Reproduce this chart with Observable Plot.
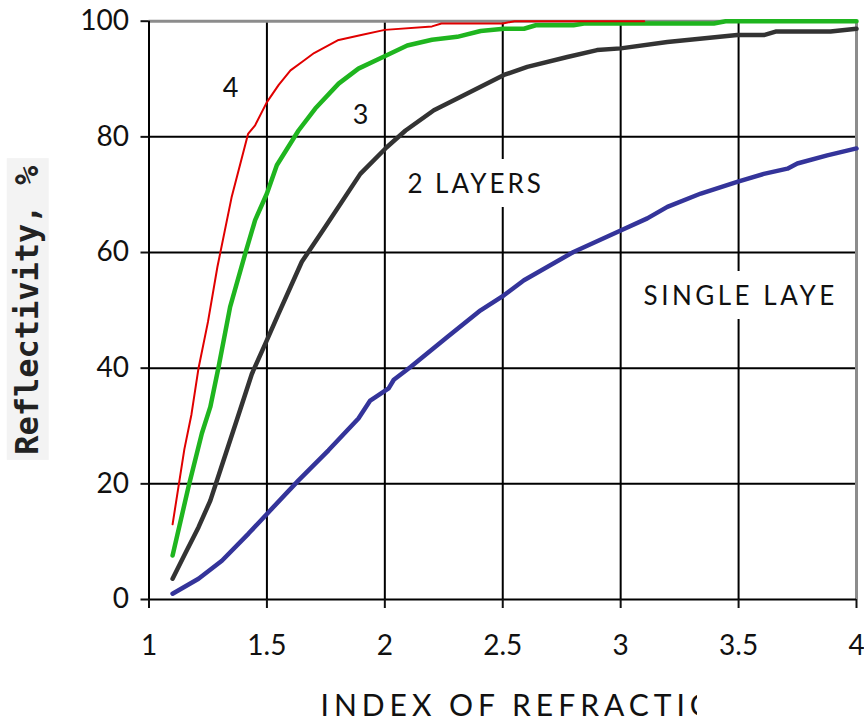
<!DOCTYPE html>
<html>
<head>
<meta charset="utf-8">
<script src="https://cdn.jsdelivr.net/npm/d3@7"></script>
<script src="https://cdn.jsdelivr.net/npm/@observablehq/plot@0.6"></script>
<style>
  body { margin: 0; background: #fff; }
  #chart { width: 864px; height: 719px; overflow: hidden; }
</style>
</head>
<body>
<div id="chart"></div>
<script>
// ---- Data ----
// 4 layers (red)
const fourX = [1.10, 1.15, 1.18, 1.21, 1.25, 1.29, 1.35, 1.42, 1.45, 1.50, 1.55, 1.60, 1.65, 1.70, 1.80, 1.90, 2.00, 2.20, 2.24, 2.50, 2.55, 3.10];
const fourY = [13, 26, 32, 40, 48, 57.5, 69.5, 80.5, 82, 86, 89, 91.5, 93, 94.5, 96.7, 97.6, 98.5, 99.1, 99.6, 99.6, 100, 100];
// 3 layers (green)
const threeX = [1.10, 1.167, 1.224, 1.26, 1.295, 1.344, 1.408, 1.45, 1.50, 1.542, 1.634, 1.705, 1.804, 1.888, 2.008, 2.095, 2.20, 2.307, 2.406, 2.505, 2.59, 2.64, 2.80, 2.844, 3.395, 3.445, 4.0];
const threeY = [7.6, 19.4, 28.7, 33.3, 40.2, 50.6, 59.8, 65.6, 70.2, 75.1, 81.1, 84.9, 89.2, 91.8, 94.1, 95.8, 96.8, 97.3, 98.3, 98.7, 98.7, 99.3, 99.3, 99.6, 99.6, 100, 100];
// 2 layers (dark grey)
const twoX = [1.10, 1.153, 1.21, 1.26, 1.302, 1.372, 1.436, 1.493, 1.549, 1.648, 1.747, 1.896, 2.008, 2.088, 2.208, 2.32, 2.505, 2.604, 2.774, 2.90, 3.0, 3.198, 3.494, 3.607, 3.657, 3.89, 4.0];
const twoY = [3.6, 7.9, 12.5, 17.1, 22.3, 31, 39, 44.2, 49.4, 58.4, 64.4, 73.6, 78.2, 81.1, 84.6, 86.9, 90.7, 92.1, 93.8, 95, 95.3, 96.4, 97.6, 97.6, 98.2, 98.2, 98.7];
// single layer (blue)
const oneX = [1.10, 1.21, 1.309, 1.422, 1.507, 1.634, 1.761, 1.888, 1.938, 2.016, 2.038, 2.109, 2.265, 2.406, 2.505, 2.59, 2.80, 3.0, 3.113, 3.198, 3.34, 3.494, 3.607, 3.707, 3.749, 3.876, 4.0];
const oneY = [1.0, 3.6, 6.7, 11.4, 15.1, 20.6, 25.8, 31.3, 34.4, 36.5, 38.0, 40.2, 45.4, 50, 52.6, 55.2, 60.1, 63.8, 65.9, 67.9, 70.2, 72.2, 73.6, 74.5, 75.4, 76.8, 78.0];

const xTicks = [1, 1.5, 2, 2.5, 3, 3.5, 4];
const yTicks = [0, 20, 40, 60, 80, 100];
const gridX = [1.5, 2, 2.5, 3, 3.5];
const gridY = [20, 40, 60, 80];

// curve labels
const digitText = ["4", "3"];
const digitX = [1.346, 1.897];
const digitY = [88.4, 83.7];
const twoText = ["2 LAYERS"];
const twoLabX = [2.385];
const twoLabY = [71.8];
const singleText = ["SINGLE LAYER"];
const singleX = [3.097];
const singleY = [52.4];

const xTitle = "INDEX OF REFRACTION";
const yTitle = "Reflectivity, %";

const rows = (xs, ys) => xs.map((x, i) => ({x, y: ys[i]}));
const lab = (ts, xs, ys) => ts.map((t, i) => ({t, x: xs[i], y: ys[i]}));

const lineOpts = {x: "x", y: "y", strokeLinecap: "round", strokeLinejoin: "round"};

const chart = Plot.plot({
  width: 864,
  height: 719,
  marginLeft: 148.5,
  marginRight: 8,
  marginTop: 20.7,
  marginBottom: 120,
  x: {domain: [1, 4]},
  y: {domain: [0, 100]},
  style: {fontFamily: "Lato, sans-serif", background: "#fff", color: "#111"},
  marks: [
    Plot.ruleX(gridX, {stroke: "#000", strokeWidth: 2}),
    Plot.ruleY(gridY, {stroke: "#000", strokeWidth: 2}),
    Plot.ruleY([100], {stroke: "#8c8c8c", strokeWidth: 3}),
    Plot.ruleX([4], {stroke: "#8c8c8c", strokeWidth: 3}),
    Plot.ruleX([1], {stroke: "#000", strokeWidth: 2}),
    Plot.ruleY([0], {stroke: "#000", strokeWidth: 2}),
    Plot.axisX({ticks: xTicks, tickSize: 9, tickPadding: 27, fontSize: 28, strokeWidth: 2, label: null, tickFormat: d => String(d)}),
    Plot.axisY({ticks: yTicks, tickSize: 8, tickPadding: 12, fontSize: 28, strokeWidth: 2, label: null, tickFormat: d => String(d)}),
    Plot.text(lab(digitText, digitX, digitY), {x: "x", y: "y", text: "t", fontSize: 27, fill: "#111"}),
    Plot.text(lab(twoText, twoLabX, twoLabY), {x: "x", y: "y", text: "t", fontSize: 26, fill: "#111", stroke: "#fff", strokeWidth: 28, ariaDescription: "two-label"}),
    Plot.text(lab(singleText, singleX, singleY), {x: "x", y: "y", text: "t", fontSize: 26, textAnchor: "start", fill: "#111", stroke: "#fff", strokeWidth: 28, ariaDescription: "single-label"}),
    Plot.line(rows(oneX, oneY), {...lineOpts, stroke: "#34349a", strokeWidth: 4.5}),
    Plot.line(rows(twoX, twoY), {...lineOpts, stroke: "#333333", strokeWidth: 4.5}),
    Plot.line(rows(threeX, threeY), {...lineOpts, stroke: "#1fb51f", strokeWidth: 4.5}),
    Plot.line(rows(fourX, fourY), {...lineOpts, stroke: "#e00000", strokeWidth: 2}),
    Plot.text([xTitle], {frameAnchor: "bottom-left", dx: 171.5, dy: 116, textAnchor: "start", lineAnchor: "bottom", fontSize: 30, fill: "#111", ariaDescription: "x-title"}),
    Plot.text([yTitle], {frameAnchor: "left", dx: -121.5, rotate: -90, textAnchor: "middle", fontFamily: "DejaVu Sans Mono", fontWeight: "bold", fontSize: 32, fill: "#222", ariaDescription: "y-title"})
  ]
});

document.getElementById("chart").append(chart);
const svg = d3.select(chart);
const grp = name => svg.select(`g[aria-description="${name}"]`);

// letter spacing
grp("x-title").style("letter-spacing", "5px");
grp("two-label").style("letter-spacing", "3px");
grp("single-label").style("letter-spacing", "3.5px");

// clipping (the reference crops these two texts)
const defs = svg.insert("defs", ":first-child");
function clipRight(name, id, xmax) {
  const node = grp(name).node();
  if (!node) return;
  defs.append("clipPath").attr("id", id)
    .append("rect").attr("x", 0).attr("y", 0).attr("width", xmax).attr("height", 719);
  const wrap = document.createElementNS("http://www.w3.org/2000/svg", "g");
  wrap.setAttribute("clip-path", `url(#${id})`);
  node.parentNode.insertBefore(wrap, node);
  wrap.appendChild(node);
}
clipRight("single-label", "clipSingle", 837);
clipRight("x-title", "clipXTitle", 697);

// grey background behind the y title
const yt = grp("y-title").node();
if (yt) {
  const sb = chart.getBoundingClientRect();
  const tb = yt.getBoundingClientRect();
  yt.parentNode.insertBefore(
    d3.create("svg:rect")
      .attr("x", tb.left - sb.left - 1)
      .attr("y", tb.top - sb.top - 7)
      .attr("width", tb.width + 4)
      .attr("height", tb.height + 12)
      .attr("fill", "#f3f3f3").node(),
    yt);
}
</script>
</body>
</html>
